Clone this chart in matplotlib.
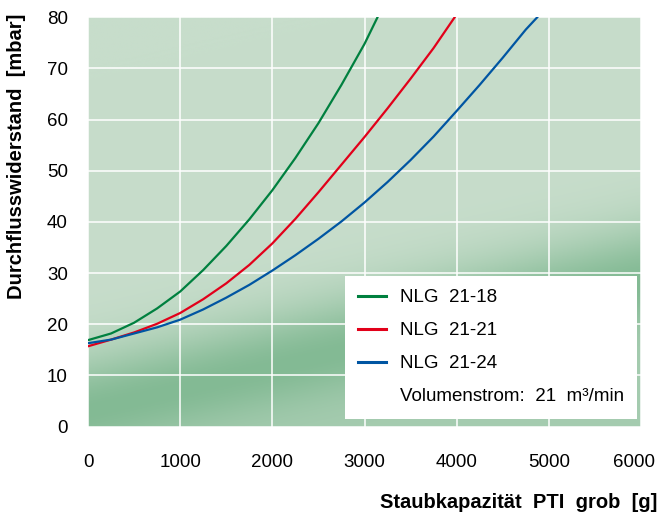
import matplotlib
matplotlib.use("Agg")
import matplotlib.pyplot as plt
import matplotlib.transforms as mtransforms
import numpy as np
from matplotlib.lines import Line2D

plt.rcParams['font.family'] = ['Liberation Sans', 'DejaVu Sans']

# values
x_1818 = [0, 250, 500, 750, 1000, 1250, 1500, 1750, 2000, 2250, 2500, 2750, 3000, 3141]
y_1818 = [16.9, 18.2, 20.3, 23.1, 26.4, 30.6, 35.3, 40.5, 46.2, 52.5, 59.3, 66.8, 74.8, 80.0]

x_2121 = [0, 250, 500, 750, 1000, 1250, 1500, 1750, 2000, 2250, 2500, 2750, 3000, 3250,
          3500, 3750, 3978]
y_2121 = [15.7, 17.0, 18.4, 20.1, 22.2, 24.9, 28.0, 31.6, 35.8, 40.6, 45.8, 51.2, 56.6, 62.2,
          68.0, 74.0, 80.0]

x_2124 = [0, 250, 500, 750, 1000, 1250, 1500, 1750, 2000, 2250, 2500, 2750, 3000, 3250,
          3500, 3750, 4000, 4250, 4500, 4750, 4874]
y_2124 = [16.3, 17.0, 18.2, 19.4, 20.9, 22.9, 25.2, 27.7, 30.5, 33.5, 36.7, 40.1, 43.8, 47.8,
          52.1, 56.7, 61.7, 66.8, 72.1, 77.6, 80.0]

labels = ['NLG  21-18', 'NLG  21-21', 'NLG  21-24']
colors = ['#00803f', '#e2001a', '#0055a2']
note = 'Volumenstrom:  21  m³/min'

x_ticks = [0, 1000, 2000, 3000, 4000, 5000, 6000]
y_ticks = [0, 10, 20, 30, 40, 50, 60, 70, 80]

fig = plt.figure(figsize=(6.6, 5.14), dpi=100)
ax = fig.add_axes([88 / 660, 1 - 426.6 / 514, 553 / 660, 409.3 / 514])

# green gradient background
gx, gy = np.meshgrid(np.linspace(0, 6000, 300), np.linspace(0, 80, 300))
t = gy - (3 + 0.0042 * gx)
w = np.where(t > 0, np.exp(-(t / 11.0) ** 2), 0.5 + 0.5 * np.exp(-(t / 8.0) ** 2))
light = np.array([199, 221, 203]) / 255
dark = np.array([131, 186, 148]) / 255
img = light[None, None, :] * (1 - w[..., None]) + dark[None, None, :] * w[..., None]
ax.imshow(img, extent=[0, 6000, 0, 80], origin='lower', aspect='auto', zorder=0)

ax.plot(x_1818, y_1818, color=colors[0], lw=1.6, zorder=3)
ax.plot(x_2121, y_2121, color=colors[1], lw=1.6, zorder=3)
ax.plot(x_2124, y_2124, color=colors[2], lw=1.6, zorder=3)

ax.set_xlim(0, 6000)
ax.set_ylim(0, 80)
ax.set_xticks(x_ticks)
ax.set_yticks(y_ticks)
ax.grid(True, color='white', lw=1.1, zorder=1)
ax.set_axisbelow(True)
for s in ax.spines.values():
    s.set_visible(False)
ax.tick_params(length=0, labelsize=13.5, colors='black')
ax.tick_params(axis='x', pad=20)
ax.tick_params(axis='y', pad=14.5)

# last x label sits a little to the left, inside the figure
last = ax.get_xticklabels()[-1]
last.set_transform(last.get_transform() + mtransforms.ScaledTranslation(-7 / 100, 0, fig.dpi_scale_trans))

handles = [Line2D([], [], color=c, lw=2.2) for c in colors]
handles.append(Line2D([], [], color='none'))
leg = ax.legend(handles, labels + [note], loc='lower right',
                bbox_to_anchor=(0.993, 0.0186), borderaxespad=0, fontsize=13.5,
                handlelength=1.5, handletextpad=0.7, labelspacing=0.85,
                borderpad=0.72, fancybox=False, framealpha=1, facecolor='white',
                edgecolor='none')
leg.set_zorder(5)

fig.text(17 / 660, 1 - 14 / 514, 'Durchflusswiderstand  [mbar]', rotation=90,
         ha='center', va='top', fontsize=14.5, fontweight='bold')
fig.text(657 / 660, 1 - 503 / 514, 'Staubkapazität  PTI  grob  [g]',
         ha='right', va='center', fontsize=14.5, fontweight='bold')

fig.savefig('out.png', dpi=100)
